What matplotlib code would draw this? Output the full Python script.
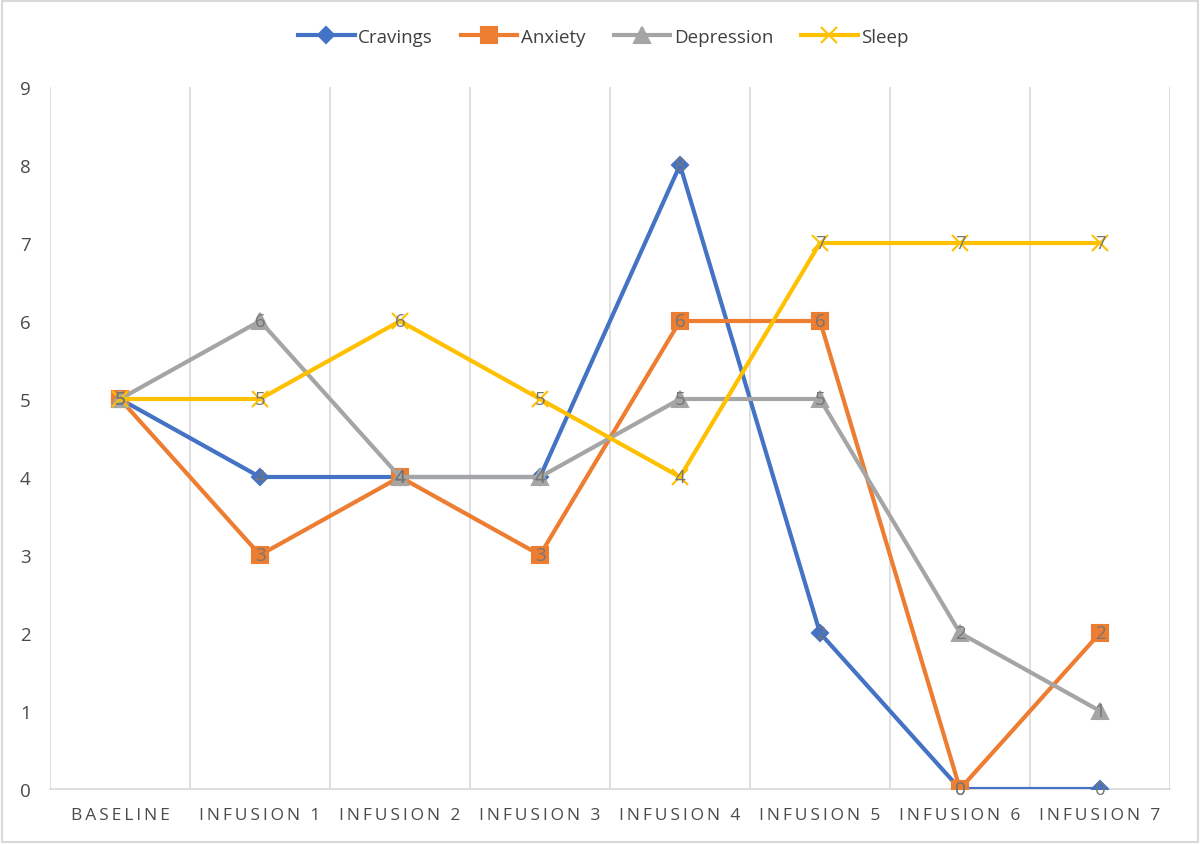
import matplotlib
matplotlib.use("Agg")
import matplotlib.pyplot as plt
from matplotlib.patches import Rectangle

plt.rcParams['font.family'] = ['Open Sans', 'DejaVu Sans']

categories = ["BASELINE", "INFUSION 1", "INFUSION 2", "INFUSION 3",
              "INFUSION 4", "INFUSION 5", "INFUSION 6", "INFUSION 7"]
cravings = [5, 4, 4, 4, 8, 2, 0, 0]
anxiety = [5, 3, 4, 3, 6, 6, 0, 2]
depression = [5, 6, 4, 4, 5, 5, 2, 1]
sleep = [5, 5, 6, 5, 4, 7, 7, 7]
yticks = list(range(10))

series = [
    ("Cravings", cravings, "#4472C4", "D", 8),
    ("Anxiety", anxiety, "#ED7D31", "s", 11),
    ("Depression", depression, "#A5A5A5", "^", 11),
    ("Sleep", sleep, "#FFC000", "x", 11),
]

fig = plt.figure(figsize=(12, 8.45), dpi=100)
ax = fig.add_axes([50 / 1200, 1 - 790 / 845, 1120 / 1200, 702 / 845])

x = list(range(len(categories)))
for name, vals, col, mk, ms in series:
    ax.plot(x, vals, color=col, lw=3, marker=mk, ms=ms, mew=1.5,
            mfc=col, mec=col, label=name, zorder=3)

# data labels, centred on the points
for name, vals, col, mk, ms in series:
    for xi, v in zip(x, vals):
        ax.text(xi, v, str(v), ha="center", va="center", fontsize=13.5,
                color="#767676", zorder=4)

ax.set_xlim(-0.5, len(categories) - 0.5)
ax.set_ylim(0, 9)
ax.set_yticks(yticks)
ax.set_xticks(x)
spaced = ["\u2009".join(c) for c in categories]
ax.set_xticklabels(spaced, fontsize=12.5, color="#4a4a4a")
ax.tick_params(axis="y", labelsize=13.5, colors="#4a4a4a", length=0, pad=14)
ax.tick_params(axis="x", length=0, pad=13)

for b in [i - 0.5 for i in range(len(categories) + 1)]:
    ax.axvline(b, color="#D9D9D9", lw=1.2, zorder=1)

for s in ["top", "right", "left"]:
    ax.spines[s].set_visible(False)
ax.spines["bottom"].set_color("#D9D9D9")
ax.spines["bottom"].set_linewidth(1.2)

fig.legend(loc="center", bbox_to_anchor=(0.503, 1 - 38 / 845), ncol=4,
           frameon=False, fontsize=13.5, handlelength=3.0, columnspacing=1.5,
           handletextpad=0.2, labelcolor="#404040")

fig.patches.append(Rectangle((0.002, 0.002), 0.996, 0.996, transform=fig.transFigure,
                             fill=False, edgecolor="#D9D9D9", lw=1.5))

fig.savefig("out.png", dpi=100)
